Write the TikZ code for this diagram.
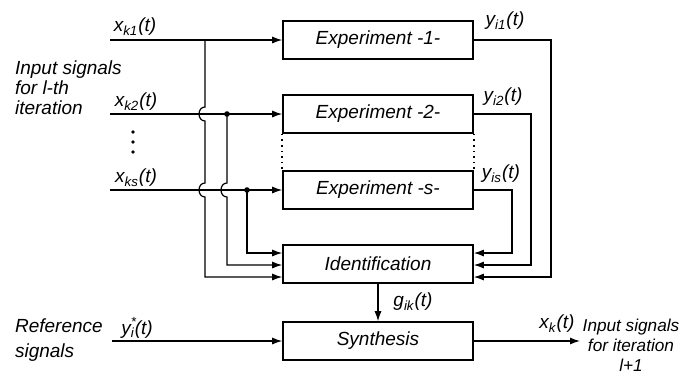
\documentclass[tikz,border=0pt]{standalone}
\usepackage{fontspec}
\setmainfont{Liberation Sans}
\usetikzlibrary{arrows.meta}

\tikzset{
  block/.style={draw, line width=0.8pt, minimum width=95pt, minimum height=19pt, inner sep=0pt},
  sig/.style={line width=0.6pt, -{Latex[length=5pt,width=3.5pt]}},
  wire/.style={line width=0.6pt},
}
\newcommand{\sgn}[2]{#1\textsubscript{#2}(t)}

\begin{document}
\begin{tikzpicture}[x=0.5pt, y=-0.5pt, font=\itshape\fontsize{9.5}{10}\selectfont]
\useasboundingbox (0,0) rectangle (680,377);

% -----------------------------
% Blocks
% -----------------------------
\node[block] (exp1)  at (378,40)  {Experiment -1-};
\node[block] (exp2)  at (378,114) {Experiment -2-};
\node[block] (exps)  at (378,190) {Experiment -s-};
\node[block] (ident) at (378,264) {Identification};
\node[block] (synth) at (378,341) {Synthesis};

% dotted edges for the experiments in between
\draw[dotted, line width=0.8pt] (exp2.south west) -- (exps.north west);
\draw[dotted, line width=0.8pt] (exp2.south east) -- (exps.north east);

% -----------------------------
% Input signals
% -----------------------------
\coordinate (in1) at (110,40);
\coordinate (in2) at (110,114);
\coordinate (ins) at (110,190);
\draw[sig] (in1) -- (exp1.west);
\draw[sig] (in2) -- (exp2.west);
\draw[sig] (ins) -- (exps.west);

\foreach \y in {132,142,152} {
    \fill (133,\y) circle (0.9pt);   % vertical dots
}

% branches to the identification (with hops)
\coordinate (br1) at (205,40);
\coordinate (br2) at (227,114);
\coordinate (brs) at (247,190);
\coordinate (id1) at (ident.west |- 0,253);
\coordinate (id2) at (ident.west |- 0,265);
\coordinate (id3) at (ident.west |- 0,277);

\draw[sig] (br1) -- (205,107) .. controls (197,107) and (197,121) .. (205,121)
    -- (205,183) .. controls (197,183) and (197,197) .. (205,197)
    -- (205,277) -- (id3);
\draw[sig] (br2) -- (227,183) .. controls (219,183) and (219,197) .. (227,197)
    -- (227,265) -- (id2);
\draw[sig] (brs) |- (id1);
\fill (br2) circle (1.4pt);
\fill (brs) circle (1.4pt);

% -----------------------------
% Outputs of the experiments
% -----------------------------
\coordinate (od1) at (ident.east |- 0,253);
\coordinate (od2) at (ident.east |- 0,265);
\coordinate (od3) at (ident.east |- 0,277);
\draw[sig] (exp1.east) -- (551,40) -- (551,277) -- (od3);
\draw[sig] (exp2.east) -- (531,114) -- (531,265) -- (od2);
\draw[sig] (exps.east) -- (512,190) -- (512,253) -- (od1);

% -----------------------------
% Synthesis
% -----------------------------
\coordinate (ref) at (112,341);
\coordinate (out) at (580,341);
\draw[sig] (ident) -- (synth);
\draw[sig] (ref) -- (synth.west);
\draw[sig] (synth.east) -- (out);

% -----------------------------
% Labels
% -----------------------------
\node at (135,27)  {\sgn{x}{k1}};
\node at (136,102) {\sgn{x}{k2}};
\node at (136,178) {\sgn{x}{ks}};
\node at (505,21)  {\sgn{y}{i1}};
\node at (503,97)  {\sgn{y}{i2}};
\node at (501,174) {\sgn{y}{is}};
\node at (413,302) {\sgn{g}{ik}};
\node at (137,328) {y\rlap{\textsuperscript{*}}\textsubscript{i}(t)};
\node at (557,324) {\sgn{x}{k}};

\node[anchor=west, align=left] at (8,88) {Input signals\\for l-th\\iteration};
\node[anchor=west, align=left] at (8,340) {Reference\\[2.5pt]signals};
\node[align=center, font=\itshape\fontsize{8.6}{10}\selectfont] at (631,345) {Input signals\\for iteration\\l+1};

\end{tikzpicture}
\end{document}
